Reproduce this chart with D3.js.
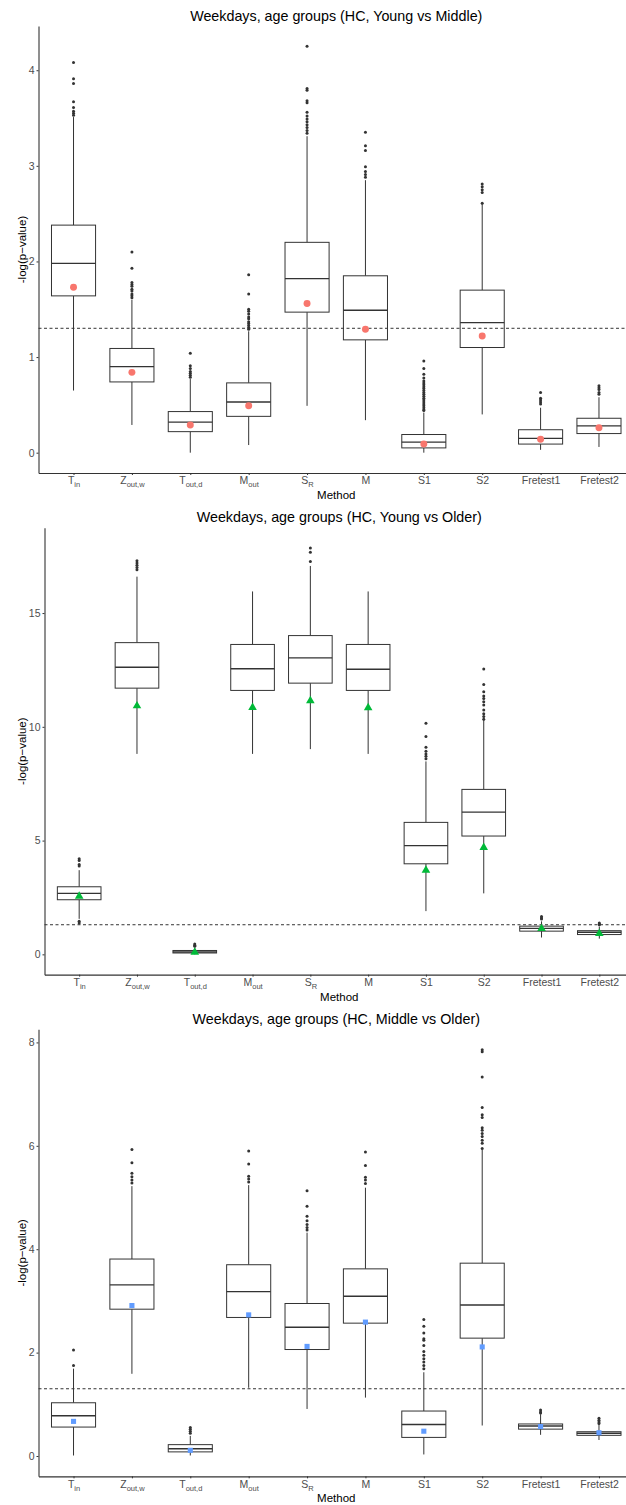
<!DOCTYPE html>
<html>
<head>
<meta charset="utf-8">
<script src="https://cdn.jsdelivr.net/npm/d3@7"></script>
<style>
  body { margin: 0; background: #fff; }
  svg { display: block; font-family: "Liberation Sans", Arial, sans-serif; }
</style>
</head>
<body>
<div id="chart"></div>
<script>
// Three ggplot-style boxplot panels, -log(p-value) per method.
// Mean marker per method, dashed line at -log10(0.05).

const methods = ['Tin', 'Zoutw', 'Toutd', 'Mout', 'SR', 'M', 'S1', 'S2', 'Fretest1', 'Fretest2'];
// [main text, subscript]
const methodLabels = [
  ['T', 'in'], ['Z', 'out,w'], ['T', 'out,d'], ['M', 'out'], ['S', 'R'],
  ['M', ''], ['S1', ''], ['S2', ''], ['Fretest1', ''], ['Fretest2', ''],
];
const THRESHOLD = 1.30103;

// --- Panel 1: Young vs Middle ---
const p1Title = 'Weekdays, age groups (HC, Young vs Middle)';
const p1Ticks = [0, 1, 2, 3, 4];
const p1Low  = [0.65, 0.29, 0.00, 0.08, 0.49, 0.34, 0.00, 0.40, 0.03, 0.06];
const p1Q1   = [1.64, 0.74, 0.22, 0.38, 1.47, 1.18, 0.05, 1.10, 0.09, 0.20];
const p1Med  = [1.98, 0.90, 0.32, 0.53, 1.82, 1.49, 0.11, 1.36, 0.15, 0.28];
const p1Q3   = [2.38, 1.09, 0.43, 0.73, 2.20, 1.85, 0.19, 1.70, 0.24, 0.36];
const p1High = [3.51, 1.60, 0.77, 1.27, 3.31, 2.85, 0.42, 2.60, 0.47, 0.58];
const p1Mean = [1.73, 0.84, 0.29, 0.49, 1.56, 1.29, 0.09, 1.22, 0.14, 0.26];
const p1Out = [
  [4.08, 3.91, 3.86, 3.67, 3.61, 3.57, 3.55, 3.53],
  [2.10, 1.93, 1.78, 1.76, 1.74, 1.71, 1.69, 1.66, 1.64, 1.62],
  [1.04, 0.91, 0.88, 0.85, 0.83, 0.81, 0.79],
  [1.86, 1.66, 1.50, 1.48, 1.45, 1.42, 1.40, 1.37, 1.35, 1.33, 1.31, 1.29],
  [4.25, 3.81, 3.79, 3.68, 3.66, 3.56, 3.52, 3.49, 3.46, 3.43, 3.40, 3.37, 3.34],
  [3.35, 3.21, 3.16, 2.99, 2.94, 2.91, 2.88],
  [0.96, 0.88, 0.82, 0.78, 0.75, 0.73, 0.71, 0.69, 0.67, 0.65, 0.63, 0.61, 0.59,
   0.57, 0.55, 0.53, 0.51, 0.49, 0.47, 0.45, 0.44],
  [2.81, 2.78, 2.75, 2.72, 2.61],
  [0.63, 0.57, 0.55, 0.53, 0.51],
  [0.70, 0.68, 0.66, 0.63, 0.61],
];

// --- Panel 2: Young vs Older ---
const p2Title = 'Weekdays, age groups (HC, Young vs Older)';
const p2Ticks = [0, 5, 10, 15];
const p2Low  = [1.56, 8.81, 0.00, 8.81, 9.02, 8.81, 1.90, 2.68, 0.74, 0.69];
const p2Q1   = [2.40, 11.70, 0.06, 11.60, 11.92, 11.60, 3.98, 5.20, 1.02, 0.87];
const p2Med  = [2.68, 12.62, 0.10, 12.55, 13.03, 12.53, 4.78, 6.25, 1.14, 0.97];
const p2Q3   = [2.97, 13.70, 0.17, 13.62, 14.01, 13.62, 5.80, 7.25, 1.24, 1.04];
const p2High = [3.70, 16.60, 0.30, 15.95, 17.07, 15.95, 8.48, 10.30, 1.45, 1.22];
const p2Mean = [2.55, 10.92, 0.09, 10.85, 11.15, 10.84, 3.70, 4.70, 1.13, 0.92];
const p2Out = [
  [4.20, 4.12, 3.95, 3.88, 1.45, 1.38],
  [17.30, 17.20, 17.10, 17.00, 16.90],
  [0.45, 0.40, 0.36],
  [],
  [17.86, 17.67, 17.27],
  [],
  [10.16, 9.58, 9.10, 8.93, 8.81, 8.71, 8.60],
  [12.54, 11.86, 11.54, 11.35, 11.25, 11.10, 10.96, 10.74, 10.57, 10.45, 10.33],
  [1.66, 1.60, 1.55],
  [1.38, 1.33, 1.30],
];

// --- Panel 3: Middle vs Older ---
const p3Title = 'Weekdays, age groups (HC, Middle vs Older)';
const p3Ticks = [0, 2, 4, 6, 8];
const p3Low  = [0.01, 1.59, 0.01, 1.32, 0.91, 1.13, 0.03, 0.59, 0.41, 0.31];
const p3Q1   = [0.56, 2.84, 0.08, 2.68, 2.06, 2.57, 0.36, 2.28, 0.52, 0.40];
const p3Med  = [0.78, 3.31, 0.14, 3.18, 2.49, 3.09, 0.61, 2.92, 0.58, 0.44];
const p3Q3   = [1.03, 3.81, 0.22, 3.70, 2.95, 3.62, 0.87, 3.73, 0.62, 0.47];
const p3High = [1.69, 5.22, 0.39, 5.24, 4.32, 5.19, 1.62, 5.92, 0.81, 0.62];
const p3Mean = [0.67, 2.91, 0.11, 2.73, 2.12, 2.59, 0.48, 2.11, 0.57, 0.45];
const p3Out = [
  [2.05, 1.75],
  [5.93, 5.67, 5.47, 5.40, 5.34, 5.28],
  [0.55, 0.52, 0.48, 0.44],
  [5.90, 5.65, 5.41, 5.36, 5.30],
  [5.13, 4.83, 4.64, 4.55, 4.48, 4.42, 4.37],
  [5.88, 5.62, 5.39, 5.34, 5.27],
  [2.64, 2.51, 2.38, 2.27, 2.24, 2.14, 2.02, 1.95, 1.88, 1.82, 1.75, 1.69],
  [7.86, 7.82, 7.33, 6.74, 6.60, 6.55, 6.35, 6.30, 6.24, 6.18, 6.11, 6.05, 5.95],
  [0.89, 0.85, 0.83],
  [0.73, 0.69, 0.66, 0.63],
];

const panels = [
  { title: p1Title, ticks: p1Ticks, low: p1Low, q1: p1Q1, med: p1Med, q3: p1Q3, high: p1High,
    mean: p1Mean, out: p1Out, left: 38.5, shape: d3.symbolCircle, size: 38, color: '#F8766D' },
  { title: p2Title, ticks: p2Ticks, low: p2Low, q1: p2Q1, med: p2Med, q3: p2Q3, high: p2High,
    mean: p2Mean, out: p2Out, left: 44.5, shape: d3.symbolTriangle, size: 32, color: '#00BA38' },
  { title: p3Title, ticks: p3Ticks, low: p3Low, q1: p3Q1, med: p3Med, q3: p3Q3, high: p3High,
    mean: p3Mean, out: p3Out, left: 38.5, shape: d3.symbolSquare, size: 26, color: '#619CFF' },
];

const W = 626, H = 1505;
const PANEL_H = H / 3;
const M = { top: 26, bottom: 473, right: 634 };
const INK = '#333333';
const FONT = '"Liberation Sans", Arial, sans-serif';

const svg = d3.select('#chart').append('svg')
  .attr('width', W).attr('height', H)
  .attr('viewBox', `0 0 ${W} ${H}`);

panels.forEach((p, pi) => {
  const g = svg.append('g').attr('transform', `translate(0, ${pi * PANEL_H})`);

  // y domain: data range plus 5% either side (ggplot default)
  const allVals = [...p.low, ...p.high, ...p.out.flat()];
  const lo = Math.min(0, d3.min(allVals));
  const hi = d3.max(allVals);
  const pad = (hi - lo) * 0.05;
  const y = d3.scaleLinear().domain([lo - pad, hi + pad]).range([M.bottom, M.top]);
  const x = d3.scalePoint().domain(methods).range([p.left, M.right]).padding(0.6);
  const bw = x.step() * 0.755;

  const rows = methods.map((m, i) => ({
    m, low: p.low[i], q1: p.q1[i], med: p.med[i], q3: p.q3[i], high: p.high[i],
    mean: p.mean[i], out: p.out[i],
  }));

  const box = g.selectAll('.box').data(rows).enter().append('g').attr('class', 'box');

  // whiskers
  box.append('line')
    .attr('x1', d => x(d.m)).attr('x2', d => x(d.m))
    .attr('y1', d => y(d.high)).attr('y2', d => y(d.q3))
    .attr('stroke', INK).attr('stroke-width', 1);
  box.append('line')
    .attr('x1', d => x(d.m)).attr('x2', d => x(d.m))
    .attr('y1', d => y(d.q1)).attr('y2', d => y(d.low))
    .attr('stroke', INK).attr('stroke-width', 1);

  box.append('rect')
    .attr('x', d => x(d.m) - bw / 2).attr('width', bw)
    .attr('y', d => y(d.q3)).attr('height', d => Math.max(1, y(d.q1) - y(d.q3)))
    .attr('fill', '#fff').attr('stroke', INK).attr('stroke-width', 1);

  box.append('line')
    .attr('x1', d => x(d.m) - bw / 2).attr('x2', d => x(d.m) + bw / 2)
    .attr('y1', d => y(d.med)).attr('y2', d => y(d.med))
    .attr('stroke', INK).attr('stroke-width', 1.4);

  // outliers
  box.selectAll('.outlier')
    .data(d => d.out.map(v => ({ m: d.m, v })))
    .enter().append('circle')
    .attr('class', 'outlier')
    .attr('cx', d => x(d.m)).attr('cy', d => y(d.v)).attr('r', 1.5)
    .attr('fill', INK);

  // significance threshold
  g.append('line')
    .attr('x1', p.left).attr('x2', M.right)
    .attr('y1', y(THRESHOLD)).attr('y2', y(THRESHOLD))
    .attr('stroke', INK).attr('stroke-width', 1)
    .attr('stroke-dasharray', '3,2.5');

  // means
  g.selectAll('.mean').data(rows).enter().append('path')
    .attr('class', 'mean')
    .attr('transform', d => `translate(${x(d.m)}, ${y(d.mean)})`)
    .attr('d', d3.symbol().type(p.shape).size(p.size))
    .attr('fill', p.color);

  // y axis
  g.append('g')
    .attr('transform', `translate(${p.left}, 0)`)
    .call(d3.axisLeft(y).tickValues(p.ticks).tickFormat(d3.format('d'))
      .tickSize(2).tickSizeOuter(0).tickPadding(2))
    .call(ax => ax.select('.domain').attr('stroke', INK).attr('stroke-width', 1.1))
    .call(ax => ax.selectAll('.tick line').attr('stroke', INK))
    .call(ax => ax.selectAll('.tick text').attr('fill', '#4D4D4D').attr('font-size', 10.5)
      .attr('font-family', FONT));

  // x axis with subscripted labels
  g.append('g')
    .attr('transform', `translate(0, ${M.bottom})`)
    .call(d3.axisBottom(x).tickSize(2).tickSizeOuter(0).tickPadding(2))
    .call(ax => ax.select('.domain').attr('stroke', INK).attr('stroke-width', 1.1))
    .call(ax => ax.selectAll('.tick line').attr('stroke', INK))
    .call(ax => ax.selectAll('.tick text').each(function(d) {
      const [main, sub] = methodLabels[methods.indexOf(d)];
      const t = d3.select(this).text('')
        .attr('fill', '#4D4D4D').attr('font-size', 10.5)
        .attr('font-family', FONT);
      t.append('tspan').text(main);
      if (sub) t.append('tspan').attr('dy', 3).attr('font-size', 7.5).text(sub);
    }));

  const cx = (p.left + M.right) / 2;

  g.append('text')
    .attr('x', cx).attr('y', 20.5)
    .attr('text-anchor', 'middle').attr('font-size', 14.3).attr('fill', '#000')
    .text(p.title);

  g.append('text')
    .attr('x', cx).attr('y', 499)
    .attr('text-anchor', 'middle').attr('font-size', 11.5).attr('fill', '#000')
    .text('Method');

  g.append('text')
    .attr('transform', `translate(26, ${(M.top + M.bottom) / 2}) rotate(-90)`)
    .attr('text-anchor', 'middle').attr('font-size', 11.5).attr('fill', '#000')
    .text('-log(p−value)');
});
</script>
</body>
</html>
